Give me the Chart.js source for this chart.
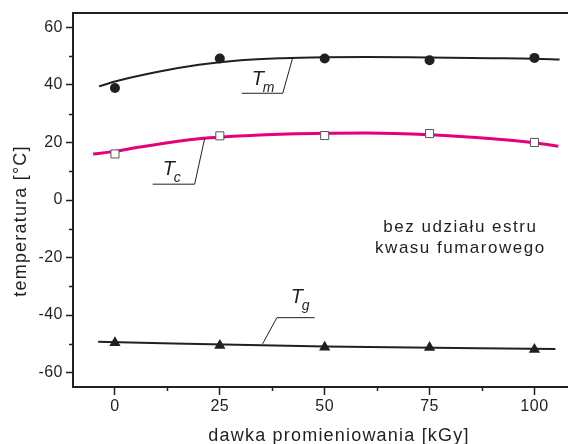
<!DOCTYPE html>
<html>
<head>
<meta charset="utf-8">
<script src="https://cdn.jsdelivr.net/npm/chart.js@4"></script>
<style>
  html, body { margin: 0; padding: 0; background: #fff; overflow: hidden; }
  canvas { display: block; }
</style>
</head>
<body>
<canvas id="chart" width="568" height="444"></canvas>
<script>
// dawka [kGy]
const doses = [0, 25, 50, 75, 100];
// zmierzone temperatury
const tmValues = [38.9, 49.2, 49.2, 48.6, 49.4];
const tcValues = [16.0, 22.3, 22.4, 23.1, 20.0];
const tgValues = [-49.6, -50.6, -51.2, -51.3, -52.0];

// krzywe dopasowania
const tmFitX = [-3.8, 0, 10, 20, 30, 40, 50, 60, 75, 90, 100, 106];
const tmFitY = [39.5, 41.2, 44.5, 47.0, 48.6, 49.3, 49.6, 49.7, 49.5, 49.3, 49.1, 48.8];
const tcFitX = [-5.2, 0, 6, 20, 34.5, 50, 60, 75, 90, 100, 105.7];
const tcFitY = [16.0, 16.9, 18.4, 21.3, 22.6, 23.2, 23.3, 22.7, 21.3, 19.9, 18.7];
const tgFitX = [-4, 50, 105];
const tgFitY = [-49.3, -50.9, -51.8];

// osie
const xMajorTicks = [0, 25, 50, 75, 100];
const xMinorTicks = [12.5, 37.5, 62.5, 87.5];
const yMajorTicks = [-60, -40, -20, 0, 20, 40, 60];
const yMinorTicks = [-50, -30, -10, 10, 30, 50];
const xTitle = 'dawka promieniowania [kGy]';
const yTitle = 'temperatura [°C]';

// opisy krzywych: [symbol, indeks, półka x1, x2, y, koniec x, y, tekst x, y]
const curveLabels = [
  ['T', 'm', 30.2, 40.0, 37.1, 42.4, 49.6, 32.6, 39.9],
  ['T', 'c', 9.0, 19.0, 5.5, 21.4, 21.5, 11.4, 8.7],
  ['T', 'g', 47.6, 38.6, -40.9, 35.2, -50.0, 41.9, -35.7]
];
const noteLines = ['bez udziału estru', 'kwasu fumarowego'];

const ink = '#231f20';
const magenta = '#e5007d';
const font = "'Liberation Sans', Arial, sans-serif";

const pts = (xs, ys) => xs.map((v, i) => ({ x: v, y: ys[i] }));

const extras = {
  id: 'extras',
  beforeDraw(chart) {
    chart.ctx.letterSpacing = '0.5px';
  },
  afterDraw(chart) {
    const { ctx, chartArea, scales: { x, y } } = chart;
    ctx.save();
    ctx.strokeStyle = ink;
    // górna ramka
    ctx.lineWidth = 2;
    ctx.beginPath();
    ctx.moveTo(chartArea.left - 1, chartArea.top);
    ctx.lineTo(chart.width, chartArea.top);
    ctx.stroke();
    // drobne podziałki
    ctx.lineWidth = 1.5;
    xMinorTicks.forEach(v => {
      const px = Math.round(x.getPixelForValue(v)) + 0.5;
      ctx.beginPath();
      ctx.moveTo(px, chartArea.bottom);
      ctx.lineTo(px, chartArea.bottom + 4);
      ctx.stroke();
    });
    yMinorTicks.forEach(v => {
      const py = Math.round(y.getPixelForValue(v)) + 0.5;
      ctx.beginPath();
      ctx.moveTo(chartArea.left, py);
      ctx.lineTo(chartArea.left - 4, py);
      ctx.stroke();
    });
    // opisy krzywych
    ctx.lineWidth = 1;
    ctx.fillStyle = ink;
    ctx.letterSpacing = '0px';
    curveLabels.forEach(([sym, sub, sx1, sx2, sy, tx, ty, lx, ly]) => {
      const ysh = y.getPixelForValue(sy);
      ctx.beginPath();
      ctx.moveTo(x.getPixelForValue(sx1), ysh);
      ctx.lineTo(x.getPixelForValue(sx2), ysh);
      ctx.lineTo(x.getPixelForValue(tx), y.getPixelForValue(ty));
      ctx.stroke();
      const px = x.getPixelForValue(lx);
      const py = y.getPixelForValue(ly);
      ctx.textBaseline = 'alphabetic';
      ctx.textAlign = 'left';
      ctx.font = 'italic 20px ' + font;
      ctx.fillText(sym, px, py);
      ctx.font = 'italic 14px ' + font;
      ctx.fillText(sub, px + 11, py + 7);
    });
    // notatka
    ctx.letterSpacing = '1.5px';
    ctx.font = '17px ' + font;
    ctx.textAlign = 'center';
    const cx = x.getPixelForValue(82.1) + 1;
    ctx.fillText(noteLines[0], cx, y.getPixelForValue(-11.1));
    ctx.fillText(noteLines[1], cx, y.getPixelForValue(-18.4));
    // tytuły osi
    ctx.letterSpacing = '1.2px';
    ctx.font = '18px ' + font;
    ctx.fillText(xTitle, 339, 441);
    ctx.translate(26, 221);
    ctx.rotate(-Math.PI / 2);
    ctx.fillText(yTitle, 0, 0);
    ctx.restore();
    ctx.letterSpacing = '0px';
  }
};

new Chart(document.getElementById('chart'), {
  type: 'scatter',
  data: {
    datasets: [
      {
        data: pts(doses, tmValues),
        pointStyle: 'circle',
        pointRadius: 5,
        backgroundColor: ink,
        borderColor: ink,
        borderWidth: 0
      },
      {
        data: pts(doses, tcValues),
        pointStyle: 'rect',
        pointRadius: 5.7,
        backgroundColor: '#ffffff',
        borderColor: '#555555',
        borderWidth: 1
      },
      {
        data: pts(doses, tgValues),
        pointStyle: 'triangle',
        pointRadius: 6.5,
        backgroundColor: ink,
        borderColor: ink,
        borderWidth: 0
      },
      {
        data: pts(tmFitX, tmFitY),
        showLine: true,
        pointRadius: 0,
        borderColor: ink,
        borderWidth: 2,
        cubicInterpolationMode: 'monotone'
      },
      {
        data: pts(tcFitX, tcFitY),
        showLine: true,
        pointRadius: 0,
        borderColor: magenta,
        borderWidth: 3,
        cubicInterpolationMode: 'monotone'
      },
      {
        data: pts(tgFitX, tgFitY),
        showLine: true,
        pointRadius: 0,
        borderColor: ink,
        borderWidth: 2,
        cubicInterpolationMode: 'monotone'
      }
    ]
  },
  options: {
    responsive: false,
    animation: false,
    events: [],
    layout: { autoPadding: false, padding: { top: 13, right: 0, bottom: 0, left: 0 } },
    plugins: {
      legend: { display: false },
      tooltip: { enabled: false }
    },
    scales: {
      x: {
        type: 'linear',
        min: -10,
        max: 108,
        afterBuildTicks: s => { s.ticks = xMajorTicks.map(v => ({ value: v })); },
        afterFit: s => { s.height = 57; s.paddingLeft = 0; s.paddingRight = 0; },
        grid: { drawOnChartArea: false, tickLength: 8, tickColor: ink, tickWidth: 1.5 },
        border: { color: ink, width: 2 },
        ticks: { color: ink, font: { family: font, size: 16 }, padding: 2, maxRotation: 0 },
        title: { display: false }
      },
      y: {
        type: 'linear',
        min: -65,
        max: 65,
        afterBuildTicks: s => { s.ticks = yMajorTicks.map(v => ({ value: v })); },
        afterFit: s => { s.width = 73; s.paddingTop = 0; s.paddingBottom = 0; },
        grid: { drawOnChartArea: false, tickLength: 7, tickColor: ink, tickWidth: 1.5 },
        border: { color: ink, width: 2 },
        ticks: { color: ink, font: { family: font, size: 16 }, padding: 3 },
        title: { display: false }
      }
    }
  },
  plugins: [extras]
});
</script>
</body>
</html>
